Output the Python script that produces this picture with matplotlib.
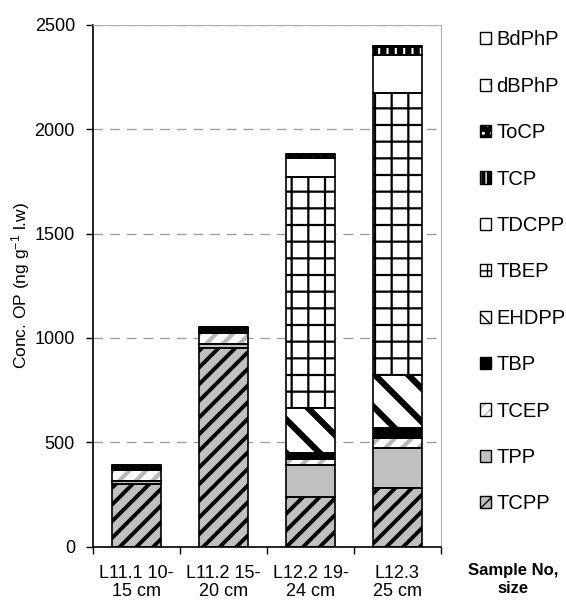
import matplotlib.pyplot as plt
from matplotlib.patches import Patch
from matplotlib.legend_handler import HandlerTuple
import numpy as np

plt.rcParams['font.family'] = ['Liberation Sans', 'DejaVu Sans']
plt.rcParams['mathtext.default'] = 'regular'

samples = ['L11.1 10-\n15 cm', 'L11.2 15-\n20 cm', 'L12.2 19-\n24 cm', 'L12.3\n25 cm']
compounds = ['TCPP', 'TPP', 'TCEP', 'TBP', 'EHDPP', 'TBEP', 'TDCPP', 'TCP', 'ToCP', 'dBPhP', 'BdPhP']

# concentrations per compound, one value per sample (ng/g l.w.)
tcpp = [300, 953, 240, 280]
tpp = [15, 16, 151, 191]
tcep = [50, 53, 28, 51]
tbp = [4, 8, 31, 48]
ehdpp = [4, 8, 213, 252]
tbep = [3, 4, 1106, 1350]
tdcpp = [9, 3, 91, 183]
tcp = [3, 3, 3, 40]
toc_p = [1, 2, 15, 3]
dbphp = [1, 1, 1, 1]
bdphp = [1, 1, 1, 1]
series = [tcpp, tpp, tcep, tbp, ehdpp, tbep, tdcpp, tcp, toc_p, dbphp, bdphp]

# fill colour, bar hatch, legend hatch, hatch colour, hatch line width
styles = {
    'TCPP':  ('#c0c0c0', '//', '///', 'black', 2.8),
    'TPP':   ('#c0c0c0', None, None, 'black', 1.0),
    'TCEP':  ('white', '//', '///', '#b8b8b8', 3.0),
    'TBP':   ('black', None, None, 'black', 1.0),
    'EHDPP': ('white', '\\', '\\\\', 'black', 4.5),
    'TBEP':  ('white', '+', '++', 'black', 1.6),
    'TDCPP': ('white', None, None, 'black', 1.0),
    'TCP':   ('black', '||', '|||', 'white', 1.5),
    'ToCP':  ('black', '..', '..', 'white', 1.0),
    'dBPhP': ('white', '.', '.', '#808080', 0.8),
    'BdPhP': ('white', '/', '/', '#a0a0a0', 0.6),
}

fig = plt.figure(figsize=(5.66, 6.06), dpi=100)
ax = fig.add_axes([0.1643, 0.0979, 0.6147, 0.8613])

x = np.arange(len(samples))
width = 0.563
bottom = np.zeros(len(samples))
handles = []
for name, vals in zip(compounds, series):
    face, hatch, lhatch, hcol, hlw = styles[name]
    with plt.rc_context({'hatch.linewidth': hlw}):
        bars = ax.bar(x, vals, width, bottom=bottom, color=face, hatch=hatch,
                      edgecolor=hcol, linewidth=0, zorder=2)
        for b in bars:
            if hasattr(b, 'set_hatch_linewidth'):
                b.set_hatch_linewidth(hlw)
        ax.bar(x, vals, width, bottom=bottom, fill=False, edgecolor='black',
               linewidth=1.2, zorder=3)
        hp = Patch(facecolor=face, hatch=lhatch, edgecolor=hcol, linewidth=0)
        if hasattr(hp, 'set_hatch_linewidth'):
            hp.set_hatch_linewidth(min(hlw, 1.6))
    handles.append((hp, Patch(fill=False, edgecolor='black', linewidth=1.0)))
    bottom += np.array(vals)

ax.set_xlim(-0.5, 3.5)
ax.set_ylim(0, 2500)
ax.set_yticks(np.arange(0, 2501, 500))
ax.yaxis.grid(True, color='#a0a0a0', linestyle=(0, (7, 5)), linewidth=1.0, zorder=0)
ax.set_axisbelow(True)

ax.set_xticks(np.arange(-0.5, 3.6, 1.0))
ax.set_xticklabels([])
ax.set_xticks(x, minor=True)
ax.set_xticklabels(samples, minor=True, fontsize=13, linespacing=1.1)
ax.tick_params(axis='x', which='major', direction='out', length=5, width=1)
ax.tick_params(axis='x', which='minor', length=0, pad=13)
ax.tick_params(axis='y', direction='out', length=5, width=1, labelsize=13, pad=8)

ax.spines['left'].set_linewidth(1.2)
ax.spines['bottom'].set_linewidth(1.2)
ax.spines['top'].set_color('#b0b0b0')
ax.spines['right'].set_color('#b0b0b0')

ax.set_ylabel('Conc. OP (ng g$^{-1}$ l.w)', fontsize=12.5, labelpad=2)

fig.legend(handles[::-1], compounds[::-1], handler_map={tuple: HandlerTuple(ndivide=1, pad=0)},
           loc='upper left', bbox_to_anchor=(0.834, 0.963), frameon=False,
           fontsize=14.5, handlelength=0.55, handleheight=0.55, handletextpad=0.25,
           labelspacing=1.36, borderaxespad=0)

fig.text(0.907, 0.044, 'Sample No,\nsize', ha='center', va='center',
         fontsize=12, fontweight='bold', linespacing=1.25)

fig.savefig('out.png', dpi=100)
